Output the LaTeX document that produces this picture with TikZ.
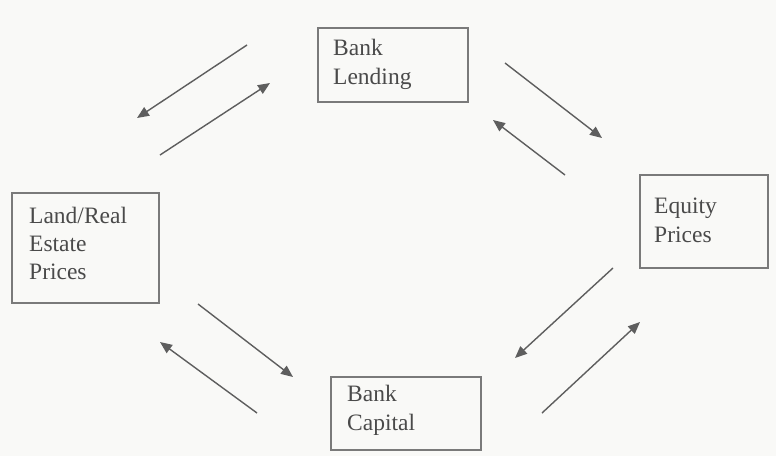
\documentclass[tikz,border=0pt]{standalone}
\usepackage{fontspec}
\setmainfont{Liberation Serif}
\usetikzlibrary{arrows.meta}
\definecolor{paper}{HTML}{F9F9F7}
\definecolor{boxline}{HTML}{7A7A7A}
\definecolor{ink}{HTML}{4A4A4A}
\definecolor{arrowc}{HTML}{5E5E5E}
\tikzset{
  factor/.style={draw=boxline, line width=1.8pt, rectangle,
    inner sep=0pt},
  label/.style={anchor=west, text=ink, align=left, inner sep=0pt,
    font=\fontsize{23.5}{29}\selectfont},
  link/.style={draw=arrowc, line width=1.4pt,
    -{Triangle[length=12pt,width=10pt]}}
}
\begin{document}
\begin{tikzpicture}[x=1pt,y=-1pt]
\fill[paper] (0,0) rectangle (776,456);
\useasboundingbox (0,0) rectangle (776,456);

\node[factor, minimum width=150pt, minimum height=74pt] (lend) at (393,65) {};
\node[label] (lendt) at (333,64) {Bank\\Lending};

\node[factor, minimum width=147pt, minimum height=110pt] (land) at (85.5,248) {};
\node[label, font=\fontsize{23.5}{28}\selectfont] (landt) at (29,243) {Land/Real\\Estate\\Prices};

\node[factor, minimum width=128pt, minimum height=93pt] (equity) at (704,221.5) {};
\node[label] (equityt) at (654,220) {Equity\\Prices};

\node[factor, minimum width=150pt, minimum height=73pt] (cap) at (406,413.5) {};
\node[label] (capt) at (347,410) {Bank\\Capital};

% arrow end points
\coordinate (a1s) at (247,45);  \coordinate (a1e) at (137,118);
\coordinate (a2s) at (160,155); \coordinate (a2e) at (270,83);
\coordinate (a3s) at (505,63);  \coordinate (a3e) at (602,138);
\coordinate (a4s) at (565,175); \coordinate (a4e) at (493,120);
\coordinate (a5s) at (198,304); \coordinate (a5e) at (293,377);
\coordinate (a6s) at (257,413); \coordinate (a6e) at (160,342);
\coordinate (a7s) at (613,268); \coordinate (a7e) at (515,358);
\coordinate (a8s) at (542,413); \coordinate (a8e) at (640,322);

\draw[link] (a1s) -- (a1e);
\draw[link] (a2s) -- (a2e);
\draw[link] (a3s) -- (a3e);
\draw[link] (a4s) -- (a4e);
\draw[link] (a5s) -- (a5e);
\draw[link] (a6s) -- (a6e);
\draw[link] (a7s) -- (a7e);
\draw[link] (a8s) -- (a8e);
\end{tikzpicture}
\end{document}
